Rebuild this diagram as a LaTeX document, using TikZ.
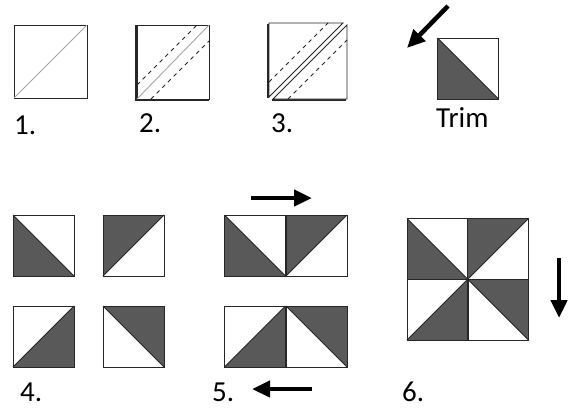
\documentclass[tikz,border=0pt]{standalone}
\usepackage{fontspec}
\setmainfont{Carlito}
\usepackage{tikz}
\usetikzlibrary{arrows.meta}

\begin{document}
\begin{tikzpicture}[x=1pt,y=-1pt,>={Triangle[length=18pt,width=16pt]},
  font=\fontsize{29}{32}\selectfont,
  edge/.style={draw=black!85,line width=0.9pt},
  seam/.style={black!85,line width=0.9pt,dash pattern=on 4pt off 4pt},
  fold/.style={black!35,line width=0.9pt},
  dark/.style={fill=black!65},
  move/.style={->,line width=4.5pt},
  lbl/.style={anchor=base west,inner sep=0pt}]
\useasboundingbox (0,0) rectangle (575,408);
% 1. two squares, drawn line
\draw[edge] (14,25) rectangle (87,98);
\draw[fold] (14,98) -- (87,25);
\node[lbl] (n1) at (14,134) {1.};
% 2. sew each side of the line
\draw[edge,line width=1.6pt] (136,26) rectangle (208,100);
\draw[edge,fill=white] (137,25) rectangle (209,99);
\draw[fold] (137,99) -- (209,25);
\draw[seam] (137,85) -- (197,25);
\draw[seam] (151,99) -- (209,41);
\node[lbl] (n2) at (139,132) {2.};
% 3. cut on the line
\draw[edge,line width=1.6pt] (268,24) -- (268,98);
\draw[edge,line width=1.6pt] (272,100) -- (346,100);
\draw[edge,fill=white] (269,23) -- (343,23) -- (269,97) -- cycle;
\draw[edge,fill=white] (273,99) -- (347,99) -- (347,25) -- cycle;
\draw[seam] (269,82) -- (328,23);
\draw[seam] (288,99) -- (347,40);
\node[lbl] (n3) at (271,132) {3.};
% trim
\coordinate (t1) at (448,6); \coordinate (t2) at (407,48);
\draw[move] (t1) -- (t2);
\begin{scope}[shift={(468,68.5)}]
  \fill[dark] (-30.5,-30.5) -- (-30.5,30.5) -- (30.5,30.5) -- cycle;
  \draw[edge] (-30.5,-30.5) rectangle (30.5,30.5);
  \draw[edge] (-30.5,-30.5) -- (30.5,30.5);
\end{scope}
\node[lbl] (trim) at (436,127) {Trim};
% 4. / 5. / 6. half square blocks (centre x / centre y / turn)
\foreach \cx/\cy/\r in {43.5/245.5/0,133.5/245.5/-90,43.5/336.5/90,133.5/336.5/180,
    255/245.5/0,316.5/245.5/-90,255/336.5/90,316.5/336.5/180,
    437.5/249/0,498/249/-90,437.5/309.5/90,498/309.5/180}
{
  \begin{scope}[shift={(\cx,\cy)},rotate=\r]
    \fill[dark] (-30.5,-30.5) -- (-30.5,30.5) -- (30.5,30.5) -- cycle;
    \draw[edge] (-30.5,-30.5) rectangle (30.5,30.5);
    \draw[edge] (-30.5,-30.5) -- (30.5,30.5);
  \end{scope}
}
\node[lbl] (n4) at (20,401) {4.};
\node[lbl] (n5) at (212,401) {5.};
\node[lbl] (n6) at (402,401) {6.};
% pressing arrows
\coordinate (r1) at (251,198); \coordinate (r2) at (312,198);
\draw[move] (r1) -- (r2);
\coordinate (l1) at (312,389); \coordinate (l2) at (252,389);
\draw[move] (l1) -- (l2);
\coordinate (d1) at (559,258); \coordinate (d2) at (559,318);
\draw[move] (d1) -- (d2);
\end{tikzpicture}
\end{document}
